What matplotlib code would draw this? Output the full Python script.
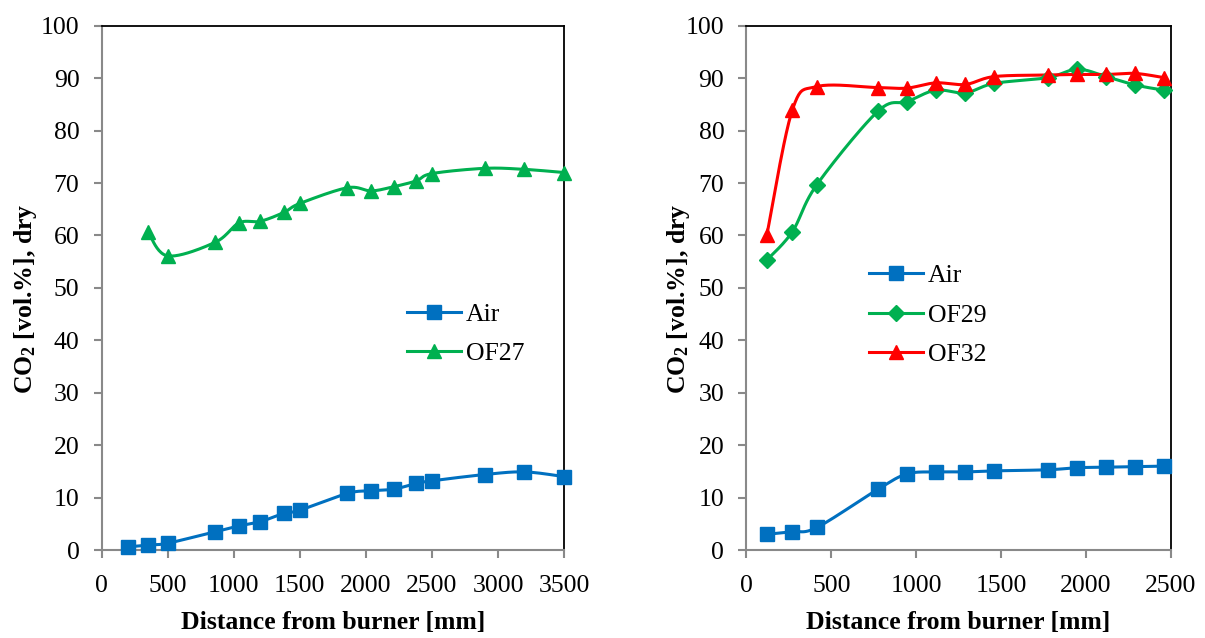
import numpy as np
import matplotlib
matplotlib.use("Agg")
import matplotlib.pyplot as plt

plt.rcParams['font.family'] = ['Liberation Serif', 'DejaVu Serif']
plt.rcParams['mathtext.fontset'] = 'custom'
plt.rcParams['mathtext.rm'] = 'Liberation Serif'
plt.rcParams['mathtext.bf'] = 'Liberation Serif:bold'

# left panel: air vs OF27
dist_air_l = [200, 350, 500, 860, 1040, 1200, 1380, 1500, 1860, 2040, 2210, 2380, 2500, 2900, 3200, 3500]
co2_air_l = [0.6, 0.95, 1.3, 3.5, 4.6, 5.4, 7.0, 7.6, 10.8, 11.3, 11.6, 12.7, 13.2, 14.4, 14.9, 14.0]
dist_of27 = [350, 500, 860, 1040, 1200, 1380, 1500, 1860, 2040, 2210, 2380, 2500, 2900, 3200, 3500]
co2_of27 = [60.7, 56.1, 58.7, 62.4, 62.7, 64.4, 66.1, 69.1, 68.5, 69.3, 70.4, 71.8, 72.8, 72.6, 72.0]

# right panel: air vs OF29 / OF32
dist_r = [120, 270, 415, 775, 945, 1115, 1290, 1460, 1775, 1950, 2120, 2290, 2460]
co2_air_r = [3.0, 3.5, 4.3, 11.6, 14.5, 14.9, 14.9, 15.1, 15.3, 15.7, 15.8, 15.9, 16.0]
co2_of29 = [55.3, 60.7, 69.7, 83.7, 85.5, 87.7, 87.2, 89.0, 90.1, 91.7, 90.3, 88.7, 87.7]
co2_of32 = [60.1, 83.9, 88.4, 88.2, 88.1, 89.1, 88.8, 90.3, 90.6, 90.7, 90.7, 90.9, 90.1]

BLUE = '#0070C0'
GREEN = '#00B050'
RED = '#FF0000'
GREY = '#898989'
FS = 18.5


def smooth(x, y, n=24):
    # Excel style smoothed line (cardinal bezier through the points)
    p = np.column_stack([x, y]).astype(float)
    out = [p[0]]
    t = np.linspace(0, 1, n)[1:, None]
    for i in range(len(p) - 1):
        p0 = p[max(i - 1, 0)]
        p1 = p[i]
        p2 = p[i + 1]
        p3 = p[min(i + 2, len(p) - 1)]
        c1 = p1 + (p2 - p0) / 6
        c2 = p2 - (p3 - p1) / 6
        seg = (1 - t) ** 3 * p1 + 3 * (1 - t) ** 2 * t * c1 + 3 * (1 - t) * t ** 2 * c2 + t ** 3 * p2
        out.extend(seg)
    out = np.array(out)
    return out[:, 0], out[:, 1]


def series(ax, x, y, color, marker, ms, label):
    sx, sy = smooth(x, y)
    ax.plot(sx, sy, color=color, lw=2.2, zorder=2)
    ax.plot(x, y, ls='none', marker=marker, ms=ms, color=color, zorder=3, clip_on=False)
    # proxy for legend
    ax.plot([], [], color=color, lw=2.2, marker=marker, ms=ms, label=label)


def style(ax, xmax, xstep, ylab_x):
    ax.set_ylim(0, 100)
    ax.set_xlim(0, xmax)
    ax.set_yticks(np.arange(0, 101, 10))
    ax.set_xticks(np.arange(0, xmax + 1, xstep))
    for s in ['left', 'bottom']:
        ax.spines[s].set_color(GREY)
        ax.spines[s].set_linewidth(1.5)
    for s in ['top', 'right']:
        ax.spines[s].set_color('black')
        ax.spines[s].set_linewidth(1.3)
    ax.tick_params(axis='both', direction='out', length=6, width=1.5, color=GREY,
                   labelsize=FS, labelcolor='black')
    ax.tick_params(axis='y', pad=10)
    ax.tick_params(axis='x', pad=12)
    ax.set_xlabel('Distance from burner [mm]', fontsize=FS, fontweight='bold', labelpad=10)
    ax.set_ylabel(r'$\mathbf{CO_2}$ [vol.%], dry', fontsize=FS, fontweight='bold')
    ax.yaxis.set_label_coords(ylab_x, 0.48)


fig = plt.figure(figsize=(12.05, 6.38), dpi=100)
ax1 = fig.add_axes([0.0844, 0.1379, 0.3837, 0.8218])
ax2 = fig.add_axes([0.6195, 0.1379, 0.3520, 0.8218])

series(ax1, dist_air_l, co2_air_l, BLUE, 's', 10, 'Air')
series(ax1, dist_of27, co2_of27, GREEN, '^', 10.5, 'OF27')
style(ax1, 3500, 500, -0.135)
ax1.legend(loc='upper left', bbox_to_anchor=(0.66, 0.472), frameon=False, fontsize=FS,
           handlelength=2.1, handletextpad=0.2, labelspacing=0.64, borderpad=0,
           borderaxespad=0, numpoints=1)

series(ax2, dist_r, co2_air_r, BLUE, 's', 10, 'Air')
series(ax2, dist_r, co2_of29, GREEN, 'D', 8, 'OF29')
series(ax2, dist_r, co2_of32, RED, '^', 10.5, 'OF32')
style(ax2, 2500, 500, -0.128)
ax2.legend(loc='upper left', bbox_to_anchor=(0.289, 0.545), frameon=False, fontsize=FS,
           handlelength=2.1, handletextpad=0.2, labelspacing=0.64, borderpad=0,
           borderaxespad=0, numpoints=1)

fig.savefig('out.png', dpi=100)
